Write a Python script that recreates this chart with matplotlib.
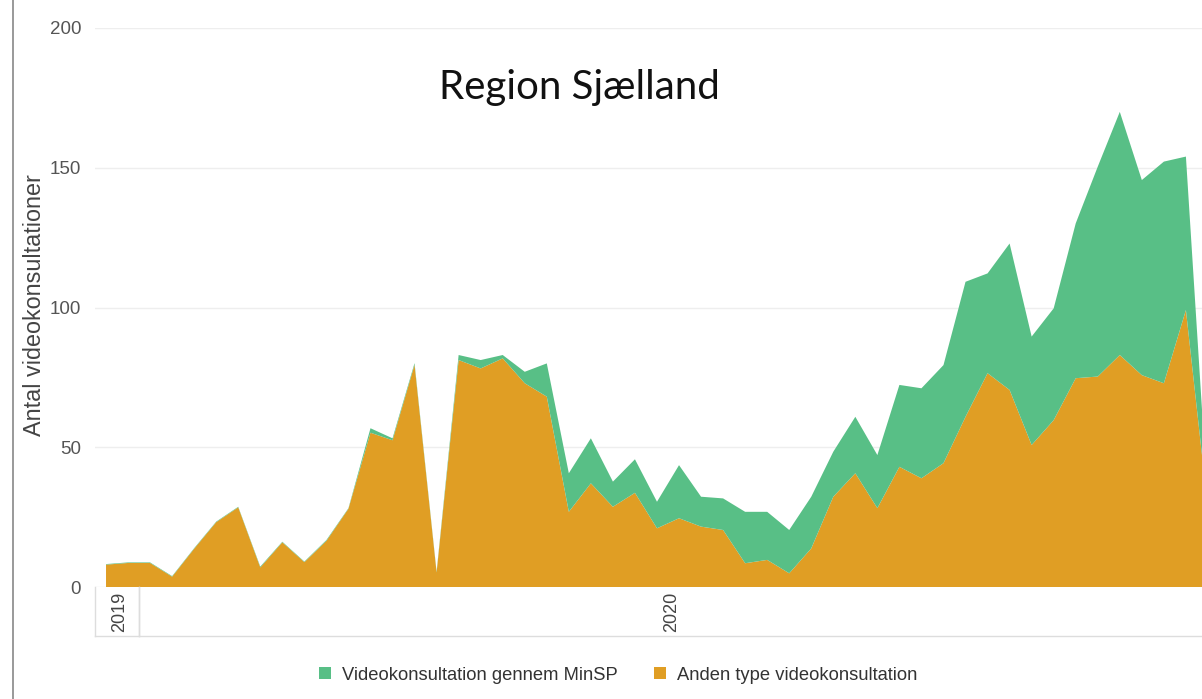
import matplotlib
matplotlib.use("Agg")
import matplotlib.pyplot as plt
from matplotlib.patches import Patch
from matplotlib.lines import Line2D
import matplotlib.transforms as mtransforms
import numpy as np

# ---- data (weekly counts) ----
total = [8.2, 8.8, 8.8, 3.9, 13.9, 23.4, 28.7, 7.3, 16.2, 9.1,
         16.8, 28.2, 56.8, 53.2, 80.1, 5.5, 83.0, 81.2, 83.0, 77.0,
         80.0, 40.7, 53.2, 37.7, 45.7, 30.5, 43.6, 32.3, 31.7, 26.9,
         26.9, 20.4, 32.3, 48.4, 60.9, 47.2, 72.3, 71.1, 79.4, 109.2,
         112.2, 122.9, 89.6, 99.7, 130.1, 150.4, 170.0, 145.6, 152.2, 154.0,
         30.0]
anden = [8.0, 8.6, 8.6, 3.7, 13.7, 23.2, 28.5, 7.0, 16.0, 8.9,
         16.5, 28.0, 55.2, 52.5, 79.5, 5.2, 81.2, 78.2, 81.8, 72.9,
         68.1, 26.9, 37.1, 28.7, 33.7, 21.0, 24.6, 21.6, 20.4, 8.5,
         9.7, 4.9, 13.8, 32.3, 40.7, 28.2, 43.0, 38.9, 44.3, 60.9,
         76.5, 70.5, 50.8, 59.7, 74.7, 75.3, 83.0, 75.8, 72.9, 99.1,
         28.0]
minsp = [round(t - a, 1) for t, a in zip(total, anden)]
years = ["2019", "2020"]
year_weeks = [2, 49]
yticks = [0, 50, 100, 150, 200]

series_names = ["Videokonsultation gennem MinSP", "Anden type videokonsultation"]
col_green = "#58BF86"
col_orange = "#E09E24"

W, H = 1202, 699
fig = plt.figure(figsize=(W / 100, H / 100), dpi=100)
fig.patch.set_facecolor("white")

ax = fig.add_axes([95 / W, 1 - 587 / H, 1 - 95 / W, (587 - 28) / H])
x = np.arange(len(total))
ax.stackplot(x, anden, minsp, colors=[col_orange, col_green], linewidth=0)
ax.set_xlim(-0.5, 49.73)
ax.set_ylim(0, 200)
ax.set_yticks(yticks)
ax.set_yticklabels([str(v) for v in yticks], color="#555555", fontsize=13.5,
                   family="Liberation Sans")
ax.tick_params(axis="y", length=0, pad=10)
ax.set_xticks([])
for s in ax.spines.values():
    s.set_visible(False)
ax.grid(axis="y", color="#eeeeee", linewidth=1)
ax.set_axisbelow(True)

# year band under the axis
trans = mtransforms.blended_transform_factory(ax.transData, ax.transAxes)
band_h = (636 - 587) / (587 - 28)
start = -0.5
for yr, n in zip(years, year_weeks):
    end = start + n
    ax.add_line(Line2D([start, start], [0, -band_h], transform=trans,
                       color="#dddddd", lw=1, clip_on=False))
    if yr == "2019":
        ax.add_line(Line2D([end, end], [0, -band_h], transform=trans,
                           color="#dddddd", lw=1, clip_on=False))
        cx = (start + end) / 2 + 0.1
    else:
        cx = 25.65
    ax.text(cx, -band_h / 2, yr, rotation=90, transform=trans, ha="center",
            va="center", fontsize=13, color="#444444", family="Liberation Sans")
    start = end
ax.add_line(Line2D([-0.5, 60], [-band_h, -band_h], transform=trans,
                   color="#dddddd", lw=1, clip_on=False))

# y-axis title
fig.text(35 / W, 1 - 305 / H, "Antal videokonsultationer", rotation=90,
         ha="center", va="center", fontsize=16.8, color="#444444",
         family="Liberation Sans")

# chart title
fig.text(579 / W, 1 - 88 / H, "Region Sjælland", ha="center", va="center",
         fontsize=29, color="#111111", family="Lato")

# legend
handles = [Patch(facecolor=col_green, edgecolor="none"),
           Patch(facecolor=col_orange, edgecolor="none")]
fig.legend(handles, series_names, loc="center", bbox_to_anchor=(618 / W, 1 - 675 / H),
           ncol=2, frameon=False, handlelength=0.65, handleheight=0.65,
           handletextpad=0.6, columnspacing=2.0,
           prop={"family": "Liberation Sans", "size": 13.2}, labelcolor="#333333")

# left frame line
fig.add_artist(Line2D([13 / W, 13 / W], [0, 1], transform=fig.transFigure,
                      color="#888888", lw=1.2))

fig.savefig("out.png", dpi=100, facecolor="white")
